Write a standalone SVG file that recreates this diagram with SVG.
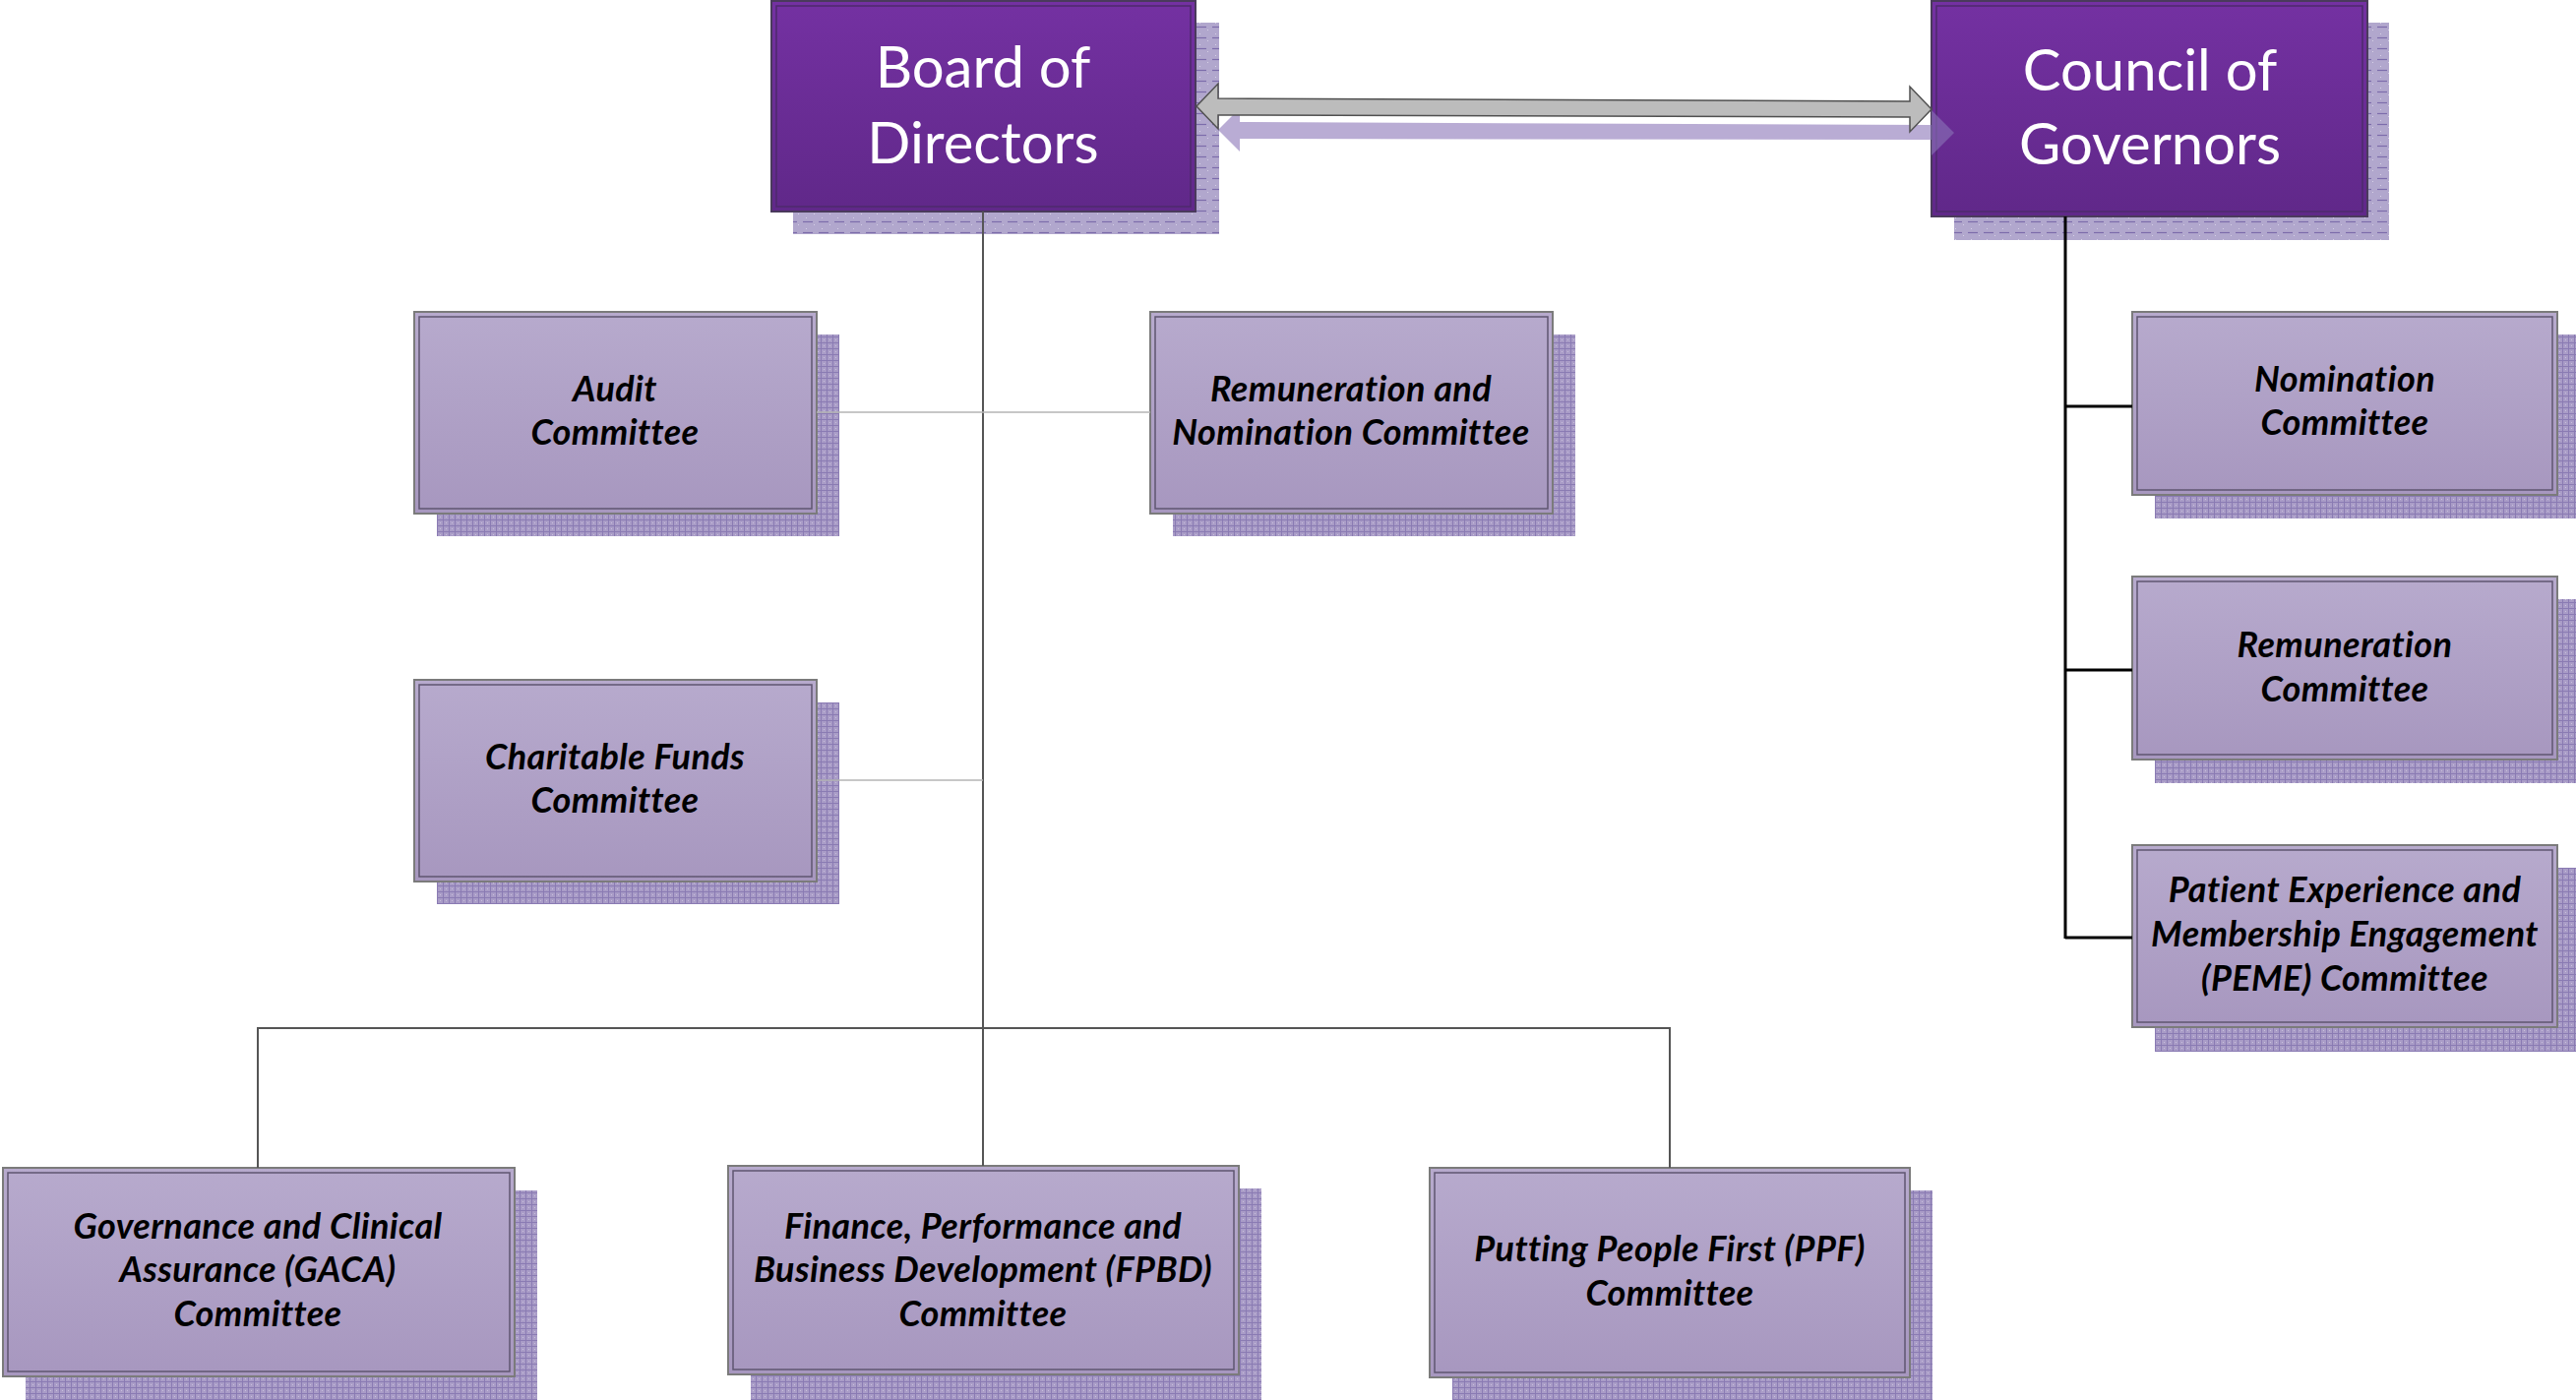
<svg xmlns="http://www.w3.org/2000/svg" width="2618" height="1423" viewBox="0 0 2618 1423">
<defs>
<linearGradient id="gTop" x1="0" y1="0" x2="0" y2="1">
<stop offset="0" stop-color="#7431a2"/><stop offset="1" stop-color="#602889"/>
</linearGradient>
<linearGradient id="gCom" x1="0" y1="0" x2="0" y2="1">
<stop offset="0" stop-color="#b7aacd"/><stop offset="1" stop-color="#a797bf"/>
</linearGradient>
<pattern id="hatch" width="6" height="6" patternUnits="userSpaceOnUse">
<rect width="6" height="6" fill="#a99cc7"/>
<path d="M0 0.5H6M0.5 0V6" stroke="#8a7bb3" stroke-width="1"/>
<rect x="3" y="3" width="1" height="1" fill="#c9c0dc"/>
</pattern>
<pattern id="dash" width="16" height="11" patternUnits="userSpaceOnUse">
<rect width="16" height="11" fill="#b1a7cd"/>
<path d="M0 5.5H10" stroke="#7c6cab" stroke-width="1.2"/>
<rect x="3" y="1" width="1" height="1" fill="#d6d0e6"/>
<rect x="11" y="8" width="1" height="1" fill="#d6d0e6"/>
</pattern>
<style>
.top{fill:url(#gTop);stroke:#4a3a5c;stroke-width:2}
.topin{fill:none;stroke:#4d2a6c;stroke-width:1.5}
.com{fill:url(#gCom);stroke:#7b7b7b;stroke-width:2}
.comin{fill:none;stroke:#5f5670;stroke-width:1.5}
.sh1{fill:url(#dash)}
.sh2{fill:url(#hatch)}
.tt{font-family:Lato,"Open Sans",sans-serif;font-size:58px;fill:#ffffff;text-anchor:middle}
.ct{font-family:Lato,"Open Sans",sans-serif;font-size:36px;letter-spacing:0.4px;font-weight:bold;font-style:italic;fill:#000000;text-anchor:middle}
.cn{fill:none;stroke:#555555;stroke-width:2}
.cl{fill:none;stroke:#b4b4b4;stroke-width:1.5}
.cb{fill:none;stroke:#000000;stroke-width:3}
</style>
</defs>

<g id="board">
<rect class="sh1" x="806" y="23" width="433" height="215"/>
<rect class="top" x="784" y="1" width="431" height="214"/>
<rect class="topin" x="789" y="6" width="421" height="204"/>
<text class="tt" x="999" y="89">Board of</text>
<text class="tt" x="999" y="166">Directors</text>
</g>

<g id="council">
<rect class="sh1" x="1986" y="23" width="442" height="221"/>
<rect class="top" x="1963" y="1" width="443" height="219"/>
<rect class="topin" x="1968" y="6" width="433" height="209"/>
<text class="tt" x="2185" y="92">Council of</text>
<text class="tt" x="2185" y="167">Governors</text>
</g>

<g id="audit">
<rect class="sh2" x="444" y="340" width="409" height="205"/>
<rect class="com" x="421" y="317" width="409" height="205"/>
<rect class="comin" x="426" y="322" width="399" height="195"/>
<text class="ct" x="625" y="408">Audit</text>
<text class="ct" x="625" y="452">Committee</text>
</g>

<g id="remnom">
<rect class="sh2" x="1192" y="340" width="409" height="205"/>
<rect class="com" x="1169" y="317" width="409" height="205"/>
<rect class="comin" x="1174" y="322" width="399" height="195"/>
<text class="ct" x="1373" y="408">Remuneration and</text>
<text class="ct" x="1373" y="452">Nomination Committee</text>
</g>

<g id="charitable">
<rect class="sh2" x="444" y="714" width="409" height="205"/>
<rect class="com" x="421" y="691" width="409" height="205"/>
<rect class="comin" x="426" y="696" width="399" height="195"/>
<text class="ct" x="625" y="782">Charitable Funds</text>
<text class="ct" x="625" y="826">Committee</text>
</g>

<g id="nomination">
<rect class="sh2" x="2190" y="340" width="432" height="187"/>
<rect class="com" x="2167" y="317" width="432" height="186"/>
<rect class="comin" x="2172" y="322" width="422" height="176"/>
<text class="ct" x="2383" y="398">Nomination</text>
<text class="ct" x="2383" y="442">Committee</text>
</g>

<g id="remuneration">
<rect class="sh2" x="2190" y="609" width="432" height="187"/>
<rect class="com" x="2167" y="586" width="432" height="186"/>
<rect class="comin" x="2172" y="591" width="422" height="176"/>
<text class="ct" x="2383" y="668">Remuneration</text>
<text class="ct" x="2383" y="713">Committee</text>
</g>

<g id="peme">
<rect class="sh2" x="2190" y="882" width="432" height="187"/>
<rect class="com" x="2167" y="859" width="432" height="185"/>
<rect class="comin" x="2172" y="864" width="422" height="175"/>
<text class="ct" x="2383" y="917">Patient Experience  and</text>
<text class="ct" x="2383" y="962">Membership Engagement</text>
<text class="ct" x="2383" y="1007">(PEME) Committee</text>
</g>

<g id="gaca">
<rect class="sh2" x="26" y="1210" width="520" height="213"/>
<rect class="com" x="3" y="1187" width="520" height="212"/>
<rect class="comin" x="8" y="1192" width="510" height="202"/>
<text class="ct" x="262" y="1259">Governance and Clinical</text>
<text class="ct" x="262" y="1303">Assurance (GACA)</text>
<text class="ct" x="262" y="1348">Committee</text>
</g>

<g id="fpbd">
<rect class="sh2" x="763" y="1208" width="519" height="215"/>
<rect class="com" x="740" y="1185" width="519" height="212"/>
<rect class="comin" x="745" y="1190" width="509" height="202"/>
<text class="ct" x="999" y="1259">Finance, Performance and</text>
<text class="ct" x="999" y="1303">Business Development (FPBD)</text>
<text class="ct" x="999" y="1348">Committee</text>
</g>

<g id="ppf">
<rect class="sh2" x="1476" y="1210" width="488" height="213"/>
<rect class="com" x="1453" y="1187" width="488" height="213"/>
<rect class="comin" x="1458" y="1192" width="478" height="203"/>
<text class="ct" x="1697" y="1282">Putting People First (PPF)</text>
<text class="ct" x="1697" y="1327">Committee</text>
</g>

<g id="connectors">
<line class="cn" x1="999" y1="215" x2="999" y2="1185"/>
<line class="cl" x1="830" y1="419" x2="1169" y2="419"/>
<line class="cl" x1="830" y1="793" x2="999" y2="793"/>
<polyline class="cn" points="262,1187 262,1045 1697,1045 1697,1187"/>
<line class="cb" x1="2099" y1="220" x2="2099" y2="954"/>
<line class="cb" x1="2099" y1="413" x2="2167" y2="413"/>
<line class="cb" x1="2099" y1="681" x2="2167" y2="681"/>
<line class="cb" x1="2099" y1="953" x2="2167" y2="953"/>
<polygon fill="#8a74b8" fill-opacity="0.6" points="1238,132 1260,110 1260,124 1963,127 1963,112 1986,135 1963,158 1963,142 1260,141 1260,154"/>
<polygon fill="#bcbcbc" stroke="#505050" stroke-width="1.5" points="1216,108 1238,85 1238,100 1941,103 1941,88 1963,111 1941,134 1941,119 1238,117 1238,131"/>
</g>
</svg>
